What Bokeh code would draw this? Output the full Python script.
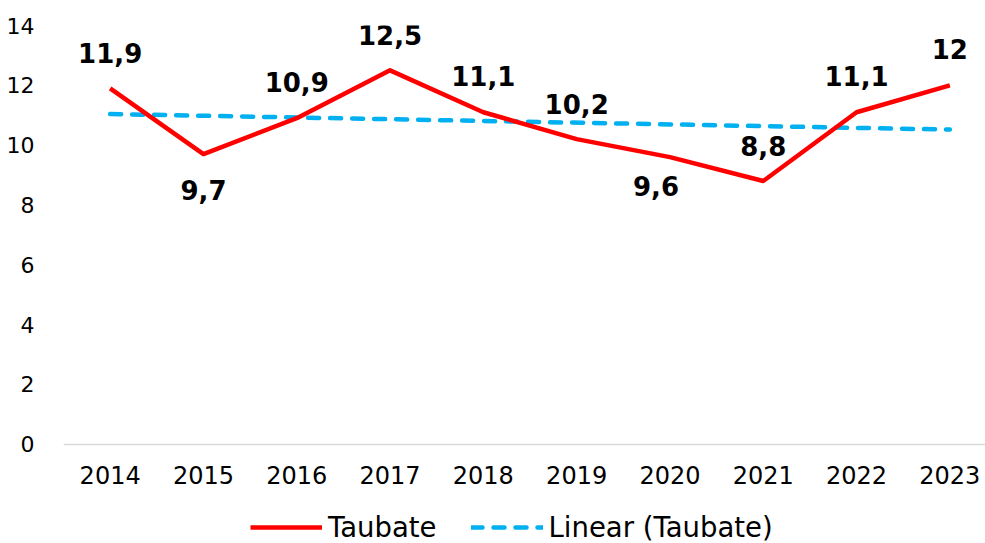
from bokeh.plotting import figure
from bokeh.models import FixedTicker, Legend, LegendItem, ColumnDataSource, Range1d
from bokeh.core.properties import value
from bokeh.embed import file_html
from bokeh.resources import INLINE

# ---- data ----
years = ["2014", "2015", "2016", "2017", "2018", "2019", "2020", "2021", "2022", "2023"]
taubate = [11.9, 9.7, 10.9, 12.5, 11.1, 10.2, 9.6, 8.8, 11.1, 12.0]
trend_idx = [0, 9]
trend_values = [11.04, 10.52]
y_ticks = [0, 2, 4, 6, 8, 10, 12, 14]

# data-label placement (pixel offsets from each point)
label_dx = [0, 0, 0, 0, 0, 0, -14, 0, 0, 0]
label_dy = [-35, 36, -36, -35, -36, -35, 29, -35, -36, -36]

FONT = "DejaVu Sans"
RED = "#FF0000"
BLUE = "#00B0F0"

x_idx = list(range(len(years)))
labels = [f"{v:g}".replace(".", ",") for v in taubate]

src = ColumnDataSource(dict(x=x_idx, y=taubate, lab=labels, dx=label_dx, dy=label_dy))

# frame spans from top border to the bottom of the canvas; y=0 sits at ~443px
p = figure(width=985, height=543, output_backend="svg", toolbar_location=None,
           x_range=Range1d(-0.5, 9.382), y_range=Range1d(-3.32, 14),
           min_border_left=63, min_border_right=0, min_border_top=25, min_border_bottom=0)
p.outline_line_color = None
p.xgrid.grid_line_color = None
p.ygrid.grid_line_color = None
p.background_fill_color = "white"

r_trend = p.line(trend_idx, trend_values, line_color=BLUE, line_width=4.5,
                 line_dash="11 11", line_cap="round")
r_main = p.line("x", "y", source=src, line_color=RED, line_width=4.5, line_join="round")

p.text("x", "y", text="lab", source=src, x_offset="dx", y_offset="dy",
       text_font=value(FONT), text_font_style="bold", text_font_size="26px",
       text_align="center", text_baseline="middle", text_color="black")

# x axis, drawn at y = 0
p.xaxis.fixed_location = 0
p.xaxis.ticker = FixedTicker(ticks=x_idx)
p.xaxis.major_label_overrides = {i: y for i, y in enumerate(years)}
p.xaxis.major_tick_line_color = None
p.xaxis.minor_tick_line_color = None
p.xaxis.axis_line_color = "#D9D9D9"
p.xaxis.axis_line_width = 1.5
p.xaxis.major_label_text_font = FONT
p.xaxis.major_label_text_font_size = "24px"
p.xaxis.major_label_text_color = "black"
p.xaxis.major_label_standoff = 16

# y axis
p.yaxis.ticker = FixedTicker(ticks=y_ticks)
p.yaxis.axis_line_color = None
p.yaxis.major_tick_line_color = None
p.yaxis.minor_tick_line_color = None
p.yaxis.major_label_text_font = FONT
p.yaxis.major_label_text_font_size = "22px"
p.yaxis.major_label_text_color = "black"
p.yaxis.major_label_standoff = 23

legend = Legend(items=[LegendItem(label="Taubate", renderers=[r_main]),
                       LegendItem(label="Linear (Taubate)", renderers=[r_trend])],
                location=(187, 0), orientation="horizontal",
                glyph_width=72, glyph_height=28, label_height=28,
                label_text_font=FONT, label_text_font_size="27.5px", label_text_color="black",
                label_standoff=6, spacing=34, padding=0, margin=0,
                border_line_color=None, background_fill_alpha=0)
p.add_layout(legend)

open("out.html", "w").write(file_html(p, INLINE))
